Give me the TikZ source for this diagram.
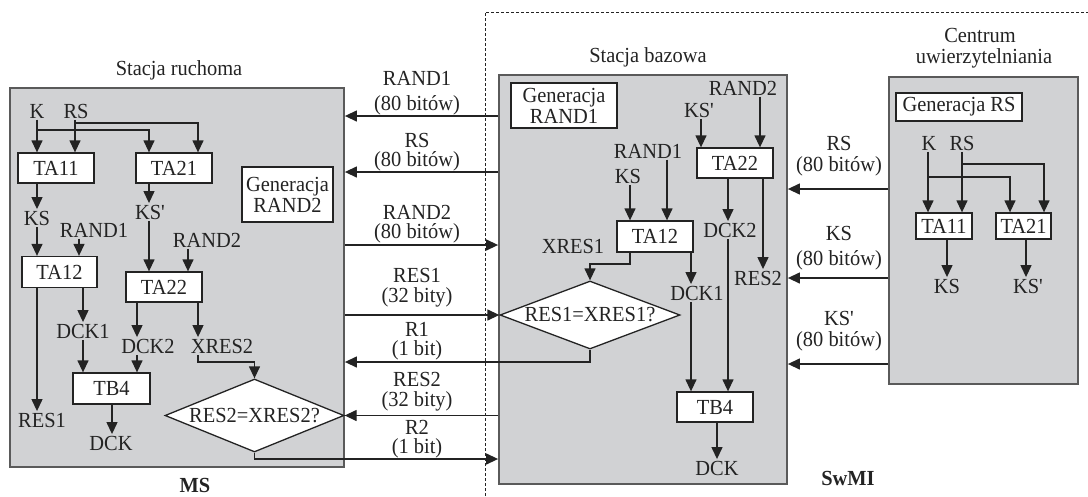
\documentclass[tikz,border=0pt]{standalone}
\usepackage{fontspec}
\setmainfont{Liberation Serif}[FakeStretch=0.95]
\usetikzlibrary{arrows.meta,shapes.geometric}
\definecolor{panelfill}{RGB}{209,210,212}
\definecolor{panelline}{RGB}{90,90,90}
\definecolor{ink}{RGB}{35,35,35}
\newcommand{\fsz}{\fontsize{21.5}{21}\selectfont}
\begin{document}
\begin{tikzpicture}[x=1pt,y=-1pt,
  every node/.style={text=ink},
  panel/.style={draw=panelline, fill=panelfill, line width=1.8pt, inner sep=0pt},
  lbl/.style={inner sep=1.5pt, anchor=base, font=\fsz},
  msg/.style={inner sep=0pt, anchor=base, font=\fsz},
  ttl/.style={inner sep=0pt, anchor=base, font=\fsz},
  box/.style={draw=ink, fill=white, line width=1.3pt, inner sep=0pt, align=center, font=\fsz},
  dia/.style={diamond, draw=ink, fill=white, line width=1.3pt, inner sep=0pt, font=\fsz},
  arr/.style={draw=ink, line width=1.3pt, -{Triangle[length=12pt,width=11pt]}},
  frame/.style={draw=ink, line width=1pt, dash pattern=on 3pt off 2pt}
]
\useasboundingbox (0,0) rectangle (1088,496);
\draw[frame] (485,496) -- (485,12) -- (1088,12);

% panels
\node[panel, minimum width=334pt, minimum height=379pt] (ms) at (177,277.5) {};
\node[panel, minimum width=288pt, minimum height=409pt] (bs) at (643,279.5) {};
\node[panel, minimum width=189pt, minimum height=307pt] (au) at (983.5,230.5) {};

% titles
\node[ttl] (tms) at (179,75) {Stacja ruchoma};
\node[ttl] (tbs) at (648,62) {Stacja bazowa};
\node[ttl] (tau1) at (980,42) {Centrum};
\node[ttl] (tau2) at (984,63) {uwierzytelniania};
\node[ttl, font=\fsz\bfseries] (msl) at (195,492) {MS};
\node[ttl, font=\fsz\bfseries] (swmi) at (848,485) {SwMI};

% guide coordinates
\coordinate (gK) at (37,0);
\coordinate (gRS) at (75,0);
\coordinate (gKS2) at (149,0);
\coordinate (gBr2) at (198,0);
\coordinate (gR1) at (79,0);
\coordinate (gR2) at (188,0);
\coordinate (gD1) at (83,0);
\coordinate (gD2) at (137,0);
\coordinate (gDCK) at (112,0);
\coordinate (yKb) at (0,130);
\coordinate (yRSb) at (0,123);
\coordinate (yX2) at (0,362);
\coordinate (gm1) at (630,0);
\coordinate (gm2) at (667,0);
\coordinate (gm3) at (701,0);
\coordinate (gm4) at (760,0);
\coordinate (gm5) at (728,0);
\coordinate (gm6) at (763,0);
\coordinate (gm8) at (691,0);
\coordinate (gm9) at (717,0);
\coordinate (yT12) at (0,264);
\coordinate (gr1) at (928,0);
\coordinate (gr2) at (962,0);
\coordinate (gr3) at (1010,0);
\coordinate (gr4) at (1044,0);
\coordinate (gr5) at (947,0);
\coordinate (gr6) at (1026,0);
\coordinate (yrK) at (0,177);
\coordinate (yrRS) at (0,164);
\coordinate (yA) at (0,116);
\coordinate (yB) at (0,172);
\coordinate (yC) at (0,245);
\coordinate (yR1) at (0,362);
\coordinate (yR2) at (0,459);
\coordinate (yRS) at (0,189);
\coordinate (yKS) at (0,278);
\coordinate (yKSp) at (0,364);

% ---------- left panel ----------
\node[box, minimum width=76pt, minimum height=30pt] (ta11) at (56,168) {TA11};
\node[box, minimum width=76pt, minimum height=30pt] (ta21) at (174,168) {TA21};
\node[box, minimum width=91pt, minimum height=55pt] (gen2) at (287.5,194.5) {Generacja\\RAND2};
\node[box, minimum width=75pt, minimum height=31pt] (ta12) at (59.5,272) {TA12};
\node[box, minimum width=76pt, minimum height=30pt] (ta22) at (164,287) {TA22};
\node[box, minimum width=77pt, minimum height=31pt] (tb4) at (111.5,388.5) {TB4};
\node[dia, minimum width=179pt, minimum height=73pt] (d2) at (254.5,415.5) {\makebox[0pt]{RES2=XRES2?}};

\node[lbl] (lK) at (37,118) {K};
\node[lbl] (lRS) at (76,118) {RS};
\node[lbl] (lKS) at (37,225) {KS};
\node[lbl] (lKSp) at (150,219) {KS\textquotesingle};
\node[lbl] (lR1) at (94,237) {RAND1};
\node[lbl] (lR2) at (207,247) {RAND2};
\node[lbl] (lDCK1) at (83,338) {DCK1};
\node[lbl] (lDCK2) at (148,353) {DCK2};
\node[lbl] (lX2) at (222,353) {XRES2};
\node[lbl] (lRES1) at (42,427) {RES1};
\node[lbl] (lDCK) at (111,450) {DCK};

\draw[arr] (gK |- lK.south) -- (gK |- ta11.north);
\draw[arr] (gK |- yKb) -| (gKS2 |- ta21.north);
\draw[arr] (gRS |- lRS.south) -- (gRS |- ta11.north);
\draw[arr] (gRS |- yRSb) -| (gBr2 |- ta21.north);
\draw[arr] (gK |- ta11.south) -- (gK |- lKS.north);
\draw[arr] (gK |- lKS.south) -- (gK |- ta12.north);
\draw[arr] (gR1 |- lR1.south) -- (gR1 |- ta12.north);
\draw[arr] (gKS2 |- ta21.south) -- (gKS2 |- lKSp.north);
\draw[arr] (gKS2 |- lKSp.south) -- (gKS2 |- ta22.north);
\draw[arr] (gR2 |- lR2.south) -- (gR2 |- ta22.north);
\draw[arr] (gK |- ta12.south) -- (gK |- lRES1.north);
\draw[arr] (gD1 |- ta12.south) -- (gD1 |- lDCK1.north);
\draw[arr] (gD1 |- lDCK1.south) -- (gD1 |- tb4.north);
\draw[arr] (gD2 |- ta22.south) -- (gD2 |- lDCK2.north);
\draw[arr] (gD2 |- lDCK2.south) -- (gD2 |- tb4.north);
\draw[arr] (gBr2 |- ta22.south) -- (gBr2 |- lX2.north);
\draw[arr] (gBr2 |- lX2.south) -- (gBr2 |- yX2) -| (d2.north);
\draw[arr] (gDCK |- tb4.south) -- (gDCK |- lDCK.north);

% ---------- middle panel ----------
\node[box, minimum width=106pt, minimum height=45pt] (gen1) at (564,105.5) {Generacja\\RAND1};
\node[box, minimum width=76pt, minimum height=30pt] (ta22m) at (735,163) {TA22};
\node[box, minimum width=76pt, minimum height=31pt] (ta12m) at (655,236.5) {TA12};
\node[dia, minimum width=180pt, minimum height=68pt] (d1) at (590,315) {\makebox[0pt]{RES1=XRES1?}};
\node[box, minimum width=76pt, minimum height=30pt] (tb4m) at (715,407) {TB4};

\node[lbl] (mR2) at (743,95) {RAND2};
\node[lbl] (mKSp) at (699,117) {KS\textquotesingle};
\node[lbl] (mR1) at (648,158) {RAND1};
\node[lbl] (mKS) at (628,183) {KS};
\node[lbl] (mDCK2) at (730,237) {DCK2};
\node[lbl] (mRES2) at (758,285) {RES2};
\node[lbl] (mX1) at (573,253) {XRES1};
\node[lbl] (mDCK1) at (697,300) {DCK1};
\node[lbl] (mDCK) at (717,475) {DCK};

\draw[arr] (gm4 |- mR2.south) -- (gm4 |- ta22m.north);
\draw[arr] (gm3 |- mKSp.south) -- (gm3 |- ta22m.north);
\draw[arr] (gm2 |- mR1.south) -- (gm2 |- ta12m.north);
\draw[arr] (gm1 |- mKS.south) -- (gm1 |- ta12m.north);
\draw[arr] (gm5 |- ta22m.south) -- (gm5 |- mDCK2.north);
\draw[arr] (gm5 |- mDCK2.south) -- (gm5 |- tb4m.north);
\draw[arr] (gm6 |- ta22m.south) -- (gm6 |- mRES2.north);
\draw[arr] (gm1 |- ta12m.south) -- (gm1 |- yT12) -| (d1.north);
\draw[arr] (gm8 |- ta12m.south) -- (gm8 |- mDCK1.north);
\draw[arr] (gm8 |- mDCK1.south) -- (gm8 |- tb4m.north);
\draw[arr] (gm9 |- tb4m.south) -- (gm9 |- mDCK.north);

% ---------- right panel ----------
\node[box, minimum width=126pt, minimum height=28pt] (genRS) at (959,107) {Generacja RS};
\node[box, minimum width=56pt, minimum height=26pt] (ta11r) at (944,226) {TA11};
\node[box, minimum width=55pt, minimum height=26pt] (ta21r) at (1023.5,226) {TA21};
\node[lbl] (rK) at (929,150) {K};
\node[lbl] (rRS) at (962,150) {RS};
\node[lbl] (rKS) at (947,293) {KS};
\node[lbl] (rKSp) at (1028,293) {KS\textquotesingle};

\draw[arr] (gr1 |- rK.south) -- (gr1 |- ta11r.north);
\draw[arr] (gr1 |- yrK) -| (gr3 |- ta21r.north);
\draw[arr] (gr2 |- rRS.south) -- (gr2 |- ta11r.north);
\draw[arr] (gr2 |- yrRS) -| (gr4 |- ta21r.north);
\draw[arr] (gr5 |- ta11r.south) -- (gr5 |- rKS.north);
\draw[arr] (gr6 |- ta21r.south) -- (gr6 |- rKSp.north);

% ---------- messages ----------
\node[msg] (a1) at (417,85) {RAND1};
\node[msg] (a1b) at (417,110) {(80 bitów)};
\node[msg] (a2) at (417,147) {RS};
\node[msg] (a2b) at (417,166) {(80 bitów)};
\node[msg] (a3) at (417,219) {RAND2};
\node[msg] (a3b) at (417,238) {(80 bitów)};
\node[msg] (a4) at (417,282) {RES1};
\node[msg] (a4b) at (417,302) {(32 bity)};
\node[msg] (a5) at (417,336) {R1};
\node[msg] (a5b) at (417,355) {(1 bit)};
\node[msg] (a6) at (417,386) {RES2};
\node[msg] (a6b) at (417,406) {(32 bity)};
\node[msg] (a7) at (417,434) {R2};
\node[msg] (a7b) at (417,453) {(1 bit)};
\node[msg] (b1) at (839,150) {RS};
\node[msg] (b1b) at (839,171) {(80 bitów)};
\node[msg] (b2) at (839,240) {KS};
\node[msg] (b2b) at (839,265) {(80 bitów)};
\node[msg] (b3) at (839,325) {KS\textquotesingle};
\node[msg] (b3b) at (839,346) {(80 bitów)};

\draw[arr] (bs.west |- yA) -- (ms.east |- yA);
\draw[arr] (bs.west |- yB) -- (ms.east |- yB);
\draw[arr] (ms.east |- yC) -- (bs.west |- yC);
\draw[arr] (ms.east |- d1.west) -- (d1.west);
\draw[arr] (d1.south) |- (ms.east |- yR1);
\draw[arr] (bs.west |- d2.east) -- (d2.east);
\draw[arr] (d2.south) |- (bs.west |- yR2);
\draw[arr] (au.west |- yRS) -- (bs.east |- yRS);
\draw[arr] (au.west |- yKS) -- (bs.east |- yKS);
\draw[arr] (au.west |- yKSp) -- (bs.east |- yKSp);
\end{tikzpicture}
\end{document}
